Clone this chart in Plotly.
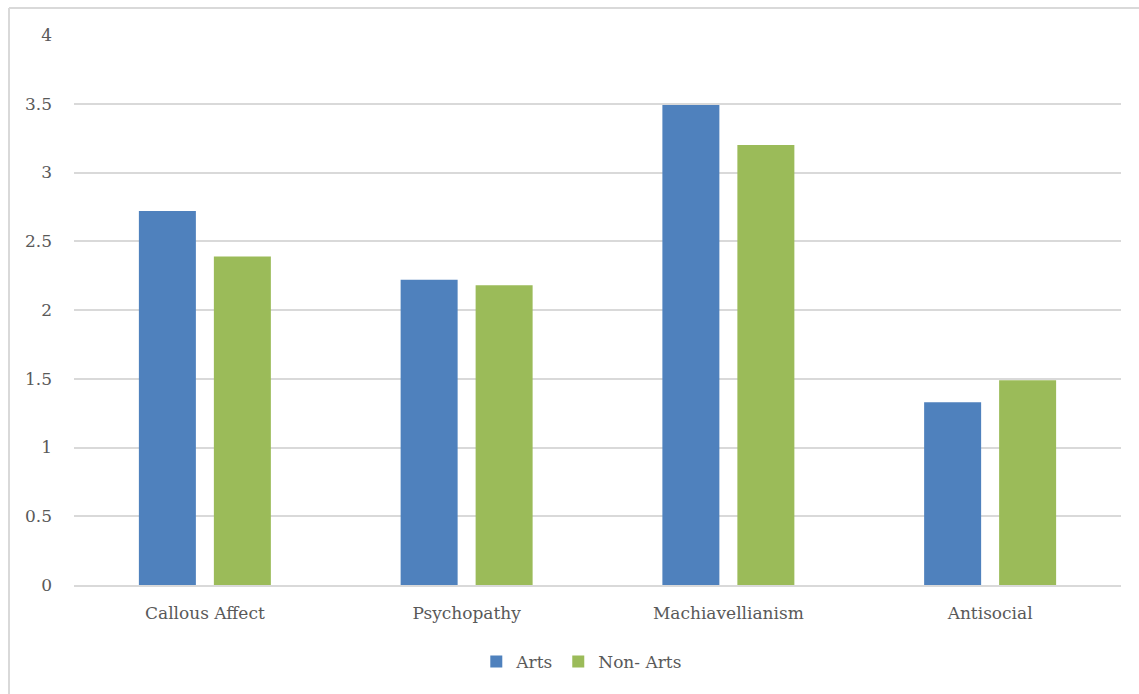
import plotly.graph_objects as go

# Mean scores by trait for the two student groups
categories = ["Callous Affect", "Psychopathy", "Machiavellianism", "Antisocial"]
arts = [2.72, 2.22, 3.49, 1.33]
non_arts = [2.39, 2.18, 3.20, 1.49]
y_ticks = [0, 0.5, 1, 1.5, 2, 2.5, 3, 3.5, 4]
y_tick_text = ["0", "0.5", "1", "1.5", "2", "2.5", "3", "3.5", "4"]

BLUE = "#4f81bd"
GREEN = "#9bbb59"
TEXT = "#595959"
GRID = "#d9d9d9"
FONT = "DejaVu Serif"

W, H = 1139, 694
left, right, top, bottom = 74, 1121, 35, 585

fig = go.Figure()
fig.add_trace(go.Bar(name="Arts", x=categories, y=arts, marker_color=BLUE,
                     marker_line_width=0))
fig.add_trace(go.Bar(name="Non- Arts", x=categories, y=non_arts, marker_color=GREEN,
                     marker_line_width=0))

fig.update_layout(
    width=W, height=H,
    margin=dict(l=left, r=W - right, t=top, b=H - bottom, pad=0),
    paper_bgcolor="white", plot_bgcolor="white",
    barmode="group", bargap=0.427, bargroupgap=0.24,
    font=dict(family=FONT, color=TEXT, size=17),
    showlegend=True,
    legend=dict(orientation="h", x=0.485, xanchor="center", y=-0.14, yanchor="middle",
                font=dict(family=FONT, size=17, color=TEXT),
                itemwidth=30, traceorder="normal"),
    xaxis=dict(showgrid=False, showline=True, linecolor=GRID, linewidth=2,
               ticks="", tickfont=dict(family=FONT, size=17, color=TEXT),
               ticklabelstandoff=12),
    yaxis=dict(range=[0, 4], tickvals=y_ticks, ticktext=y_tick_text,
               showgrid=True, gridcolor=GRID, gridwidth=2, zeroline=False,
               showline=False, ticks="", ticklabelstandoff=21,
               tickfont=dict(family=FONT, size=17, color=TEXT)),
)

# Chart-area frame (top and left edges visible)
fig.add_shape(type="line", xref="paper", yref="paper",
              x0=(9 - left) / (right - left), x1=(W + 20 - left) / (right - left),
              y0=(bottom - 8) / (bottom - top), y1=(bottom - 8) / (bottom - top),
              line=dict(color=GRID, width=2))
fig.add_shape(type="line", xref="paper", yref="paper",
              x0=(9 - left) / (right - left), x1=(9 - left) / (right - left),
              y0=(bottom - 8) / (bottom - top), y1=(bottom - H - 20) / (bottom - top),
              line=dict(color=GRID, width=2))

fig.write_html("out.html")
